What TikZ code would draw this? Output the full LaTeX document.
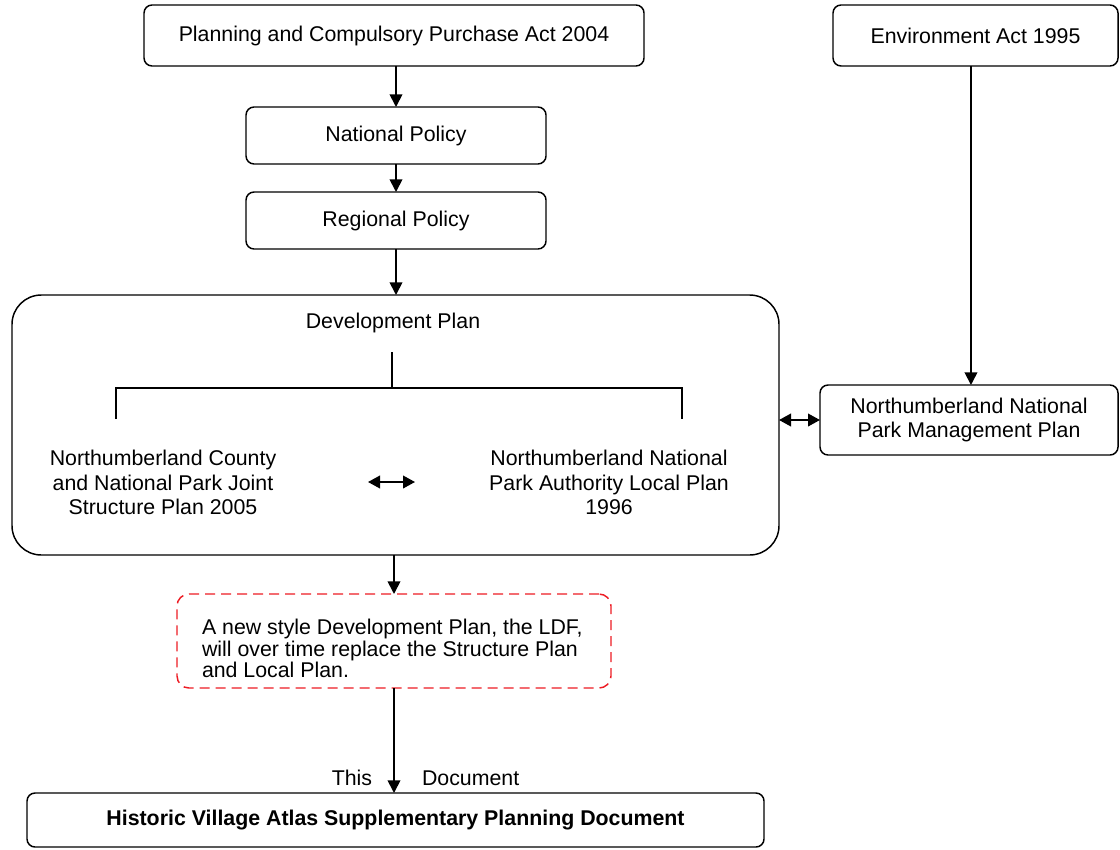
\documentclass[tikz,border=0pt]{standalone}
\usepackage{fontspec}
\setmainfont{Liberation Sans}
\usetikzlibrary{arrows.meta}
\definecolor{notered}{RGB}{237,28,36}
\begin{document}
\begin{tikzpicture}[x=0.75pt,y=-0.75pt,
  every node/.style={font=\fontsize{16}{18.4}\selectfont, inner sep=0pt, outer sep=0pt},
  box/.style={draw, line width=1.1pt, rounded corners=6pt, align=center},
  conn/.style={line width=1.3pt, -{Triangle[length=9.5pt,width=9.5pt]}},
  dbl/.style={line width=1.3pt, {Triangle[length=9pt,width=9.5pt]}-{Triangle[length=9pt,width=9.5pt]}},
  treeline/.style={line width=1.1pt},
  txt/.style={align=center}
]
\useasboundingbox (0,0) rectangle (1120,849);

% top row
\node[box, minimum width=375pt, minimum height=45.75pt] (pcpa) at (394,35.5) {Planning and Compulsory Purchase Act 2004};
\node[box, minimum width=213.75pt, minimum height=45.75pt] (env) at (975.5,35.5) {Environment Act 1995};

\node[box, minimum width=225pt, minimum height=42.75pt] (natl) at (396,135.5) {National Policy};
\node[box, minimum width=225pt, minimum height=42.75pt] (regl) at (396,220.5) {Regional Policy};

% development plan
\node[draw, line width=1.1pt, rounded corners=22pt, minimum width=575.25pt, minimum height=195pt] (dev) at (395.5,425) {};
\node[txt] (devtitle) at (393,323) {Development Plan};
\node[txt] (jsp) at (163,482.5) {Northumberland County\\and National Park Joint\\Structure Plan 2005};
\node[txt] (nlp) at (609,482.5) {Northumberland National\\Park Authority Local Plan\\1996};

\coordinate (ttop) at (392,352);
\coordinate (tj) at (392,388);
\coordinate (tl) at (116,419);
\coordinate (tr) at (682,419);
\draw[treeline] (ttop) -- (tj);
\draw[treeline] (tl) |- (tj) -| (tr);

\coordinate (da1) at (368,482);
\coordinate (da2) at (415,482);
\draw[dbl] (da1) -- (da2);

% management plan
\node[box, minimum width=223.5pt, minimum height=52.5pt] (mgmt) at (969,420) {Northumberland National\\Park Management Plan};

% note
\node[draw=notered, line width=1.1pt, dash pattern=on 7.5pt off 4.5pt, rounded corners=9pt, minimum width=325.5pt, minimum height=70.5pt] (note) at (394,641) {};
\node[align=left, anchor=west, font=\fontsize{16}{16.1}\selectfont] (notetext) at (202,648.5) {A new style Development Plan, the LDF,\\will over time replace the Structure Plan\\and Local Plan.};

% bottom
\node[box, minimum width=552.75pt, minimum height=40.5pt, font=\fontsize{16}{18.4}\selectfont\bfseries] (hva) at (395.5,820) {Historic Village Atlas Supplementary Planning Document};
\node (this) at (352,778) {This};
\node[anchor=west] (docu) at (422,778) {Document};

% connectors
\draw[conn] (natl.north |- pcpa.south) -- (natl.north);
\draw[conn] (natl.south) -- (regl.north);
\draw[conn] (regl.south) -- (regl.south |- dev.north);
\draw[conn] (dev.south -| note.north) -- (note.north);
\draw[conn] (note.south) -- (note.south |- hva.north);
\draw[conn] ([xshift=-3.4pt]env.south) -- ([xshift=-3.4pt]env.south |- mgmt.north);
\draw[dbl] (mgmt.west) -- (mgmt.west -| dev.east);
\end{tikzpicture}
\end{document}
